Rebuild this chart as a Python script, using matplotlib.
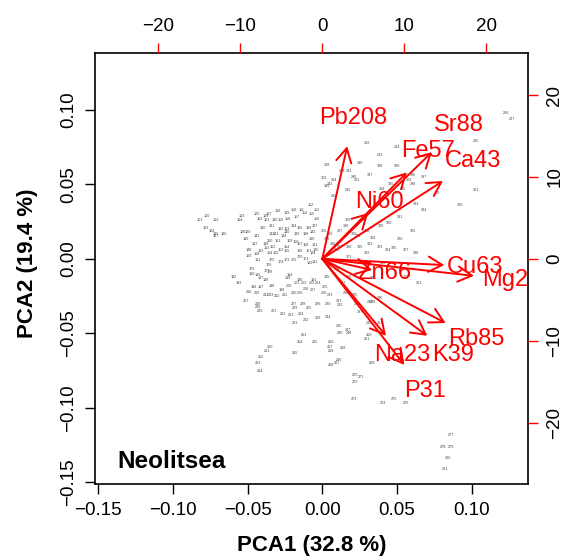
import matplotlib
matplotlib.use("Agg")
import matplotlib.pyplot as plt

plt.rcParams['font.family'] = ['Liberation Sans', 'DejaVu Sans']

# sample scores on the first two components
pc1 = [
    -0.077, -0.082, -0.071, -0.054, -0.055, -0.044, -0.038, -0.036, -0.030, -0.024,
    -0.019, -0.014, -0.008, -0.004, -0.012, -0.007, -0.004, -0.017, -0.023, -0.028,
    -0.032, -0.037, -0.042, -0.078, -0.074, -0.071, -0.066, -0.071, -0.053, -0.050,
    -0.040, -0.034, -0.028, -0.024, -0.019, -0.015, -0.009, -0.005, -0.011, -0.017,
    -0.024, -0.031, -0.034, -0.044, -0.026, -0.006, -0.051, -0.045, -0.049, -0.038,
    -0.035, -0.030, -0.033, -0.028, -0.024, -0.024, -0.018, -0.015, -0.011, -0.022,
    -0.007, -0.005, -0.037, -0.041, -0.035, -0.031, -0.015, -0.009, -0.044, -0.049,
    -0.015, -0.011, -0.019, -0.024, -0.028, -0.034, -0.036, -0.037, -0.035, -0.047,
    -0.047, -0.043, -0.008, -0.005, -0.006, -0.004, -0.043, -0.041, -0.038, -0.023,
    -0.015, -0.006, -0.059, -0.056, -0.022, 0.003,
    -0.046, -0.041, -0.034, -0.027, -0.022, -0.017, -0.012, -0.007, -0.003, 0.002,
    0.001, -0.006, -0.011, -0.015, -0.019, -0.025, -0.030, -0.034, -0.038, -0.044,
    -0.049, -0.051, -0.043, -0.043, -0.042, -0.032, -0.026, -0.021, -0.014, -0.009,
    -0.003, -0.019, -0.013, -0.018, 0.004, 0.011, 0.012, 0.005, 0.016, 0.022,
    0.023, 0.025, 0.032, 0.034, 0.039, -0.018, -0.011, -0.003, 0.004, 0.011,
    0.012, 0.017, 0.018, 0.031, 0.031, 0.030, 0.039, -0.012, -0.015, -0.005,
    0.006, 0.005, 0.014, 0.006, -0.035, -0.037, -0.041, -0.043, -0.042, -0.018,
    0.011, 0.010, 0.006, 0.033, 0.022, 0.026, 0.022, 0.021, 0.041, 0.048,
    0.056, 0.086, 0.081, 0.086, 0.084, 0.082,
    0.030, 0.039, 0.050, 0.103, 0.123, 0.127, 0.003, 0.013, 0.021, 0.023,
    0.008, 0.017, 0.040, 0.054, 0.061, 0.068, 0.061, 0.077, 0.092, 0.103,
    0.058, 0.001, 0.008,
    0.001, 0.005, 0.012, 0.016, 0.017, 0.021, 0.024, 0.030, 0.032, 0.034,
    0.025, 0.018, 0.012, 0.007, 0.003, 0.010, 0.018, 0.030, 0.039, 0.044,
    0.048, 0.052, 0.056, 0.063, 0.039, 0.045, 0.052, 0.061, 0.063, 0.068,
    0.046, 0.051, 0.032, 0.039, 0.050, 0.025, 0.018, 0.005, 0.005, 0.010,
    0.003, 0.018, 0.014, 0.034, 0.041, 0.056, 0.065,
]
pc2 = [
    0.029, 0.026, 0.026, 0.029, 0.026, 0.030, 0.029, 0.030, 0.032, 0.031,
    0.033, 0.033, 0.036, 0.033, 0.031, 0.030, 0.027, 0.028, 0.027, 0.026,
    0.026, 0.026, 0.027, 0.021, 0.019, 0.017, 0.017, 0.015, 0.018, 0.018,
    0.021, 0.022, 0.020, 0.020, 0.022, 0.021, 0.021, 0.022, 0.017, 0.017,
    0.018, 0.017, 0.017, 0.015, 0.015, 0.018, 0.013, 0.010, 0.006, 0.010,
    0.012, 0.012, 0.008, 0.006, 0.008, 0.005, 0.011, 0.010, 0.009, 0.012,
    0.013, 0.009, 0.007, 0.005, 0.004, 0.004, 0.005, 0.005, 0.003, 0.002,
    0.001, 0.000, -0.001, -0.001, -0.002, -0.001, -0.004, -0.008, -0.009, -0.007,
    -0.010, -0.001, -0.003, -0.002, 0.004, 0.006, -0.011, -0.013, -0.014, -0.013,
    -0.014, -0.014, -0.012, -0.016, -0.011, 0.049,
    -0.019, -0.019, -0.018, -0.021, -0.018, -0.016, -0.016, -0.016, -0.016, -0.019,
    -0.023, -0.021, -0.020, -0.023, -0.023, -0.024, -0.025, -0.024, -0.024, -0.023,
    -0.022, -0.028, -0.030, -0.032, -0.035, -0.035, -0.037, -0.038, -0.037, -0.033,
    -0.030, -0.030, -0.030, -0.033, -0.030, -0.028, -0.031, -0.024, -0.023, -0.024,
    -0.030, -0.036, -0.029, -0.029, -0.026, -0.043, -0.041, -0.040, -0.039, -0.045,
    -0.050, -0.048, -0.050, -0.043, -0.051, -0.054, -0.043, -0.051, -0.056, -0.056,
    -0.056, -0.059, -0.060, -0.062, -0.059, -0.062, -0.066, -0.070, -0.075, -0.063,
    -0.068, -0.070, -0.071, -0.070, -0.078, -0.079, -0.083, -0.094, -0.097, -0.094,
    -0.097, -0.118, -0.126, -0.126, -0.134, -0.141,
    0.078, 0.070, 0.075, 0.079, 0.098, 0.094, 0.063, 0.059, 0.055, 0.053,
    0.042, 0.046, 0.047, 0.047, 0.056, 0.055, 0.050, 0.044, 0.036, 0.046,
    0.053, 0.054, 0.053,
    0.019, 0.017, 0.019, 0.022, 0.026, 0.017, 0.015, 0.019, 0.010, 0.014,
    0.008, 0.008, 0.008, 0.010, 0.013, 0.006, 0.001, 0.004, 0.008, 0.006,
    0.007, 0.013, 0.006, 0.004, 0.022, 0.024, 0.028, 0.019, 0.037, 0.033,
    0.050, 0.044, 0.056, 0.062, 0.062, 0.064, 0.059, 0.050, -0.004, -0.007,
    -0.012, -0.012, -0.016, -0.013, -0.003, -0.012, -0.016,
]

# variable loadings (upper/right scale)
elements = ['Pb208', 'Sr88', 'Fe57', 'Ca43', 'Ni60', 'Cu63',
            'Zn66', 'Mg24', 'Rb85', 'K39', 'Na23', 'P31']
load1 = [3.8, 16.7, 12.9, 18.4, 7.0, 18.6, 7.6, 23.1, 18.8, 16.0, 9.7, 12.5]
load2 = [17.2, 16.3, 13.2, 11.9, 7.0, -0.95, -1.7, -2.6, -9.8, -11.75, -11.75, -16.2]

xlim = (-0.152, 0.138)
ylim = (-0.151, 0.138)
ratio = 182.0

fig = plt.figure(figsize=(5.66, 5.6), dpi=100)
rect = [0.1684, 0.1361, 0.765, 0.7688]
ax = fig.add_axes(rect)

# sample numbers written at their scores
for i, (x, y) in enumerate(zip(pc1, pc2)):
    ax.text(x, y, str(i + 100), fontsize=2.7, color='#444444',
            ha='center', va='center')

ax.set_xlim(xlim)
ax.set_ylim(ylim)
ax.set_xticks([-0.15, -0.10, -0.05, 0.00, 0.05, 0.10])
ax.set_yticks([-0.15, -0.10, -0.05, 0.00, 0.05, 0.10])
ax.set_xticklabels(['\u22120.15', '\u22120.10', '\u22120.05', '0.00', '0.05', '0.10'])
ax.set_yticklabels(['\u22120.15', '\u22120.10', '\u22120.05', '0.00', '0.05', '0.10'])
ax.tick_params(length=7, width=1, pad=6, labelsize=13.5)
plt.setp(ax.get_yticklabels(), rotation=90, va='center')
for s in ax.spines.values():
    s.set_linewidth(1.2)

ax.text(0.05, 0.036, 'Neolitsea', transform=ax.transAxes,
        fontsize=17.5, fontweight='bold', va='baseline')

# loadings axes on top of the scores
ax2 = fig.add_axes(rect, frameon=False)
ax2.patch.set_visible(False)
ax2.set_xlim(xlim[0] * ratio, xlim[1] * ratio)
ax2.set_ylim(ylim[0] * ratio, ylim[1] * ratio)
ax2.xaxis.tick_top()
ax2.yaxis.tick_right()
ax2.set_xticks([-20, -10, 0, 10, 20])
ax2.set_yticks([-20, -10, 0, 10, 20])
ax2.set_xticklabels(['\u221220', '\u221210', '0', '10', '20'])
ax2.set_yticklabels(['\u221220', '\u221210', '0', '10', '20'])
ax2.tick_params(length=7, width=1, pad=6, labelsize=13.5,
                color='red', labelcolor='black')
plt.setp(ax2.get_yticklabels(), rotation=90, va='center')

for name, lx, ly in zip(elements, load1, load2):
    ax2.annotate('', xy=(0.8 * lx, 0.8 * ly), xytext=(0, 0),
                 arrowprops=dict(arrowstyle='->,head_length=1.0,head_width=0.55',
                                 color='red', lw=1.4, shrinkA=0, shrinkB=0,
                                 mutation_scale=10))
    ax2.text(lx, ly, name, color='red', fontsize=17,
             ha='center', va='center', clip_on=True)

fig.text(311.8 / 566, 1 - 545 / 560, 'PCA1 (32.8 %)', fontsize=16,
         fontweight='bold', ha='center', va='center')
fig.text(28 / 566, 1 - 263 / 560, 'PCA2 (19.4 %)', fontsize=16,
         fontweight='bold', ha='center', va='center', rotation=90)

fig.savefig('out.png', dpi=100)
